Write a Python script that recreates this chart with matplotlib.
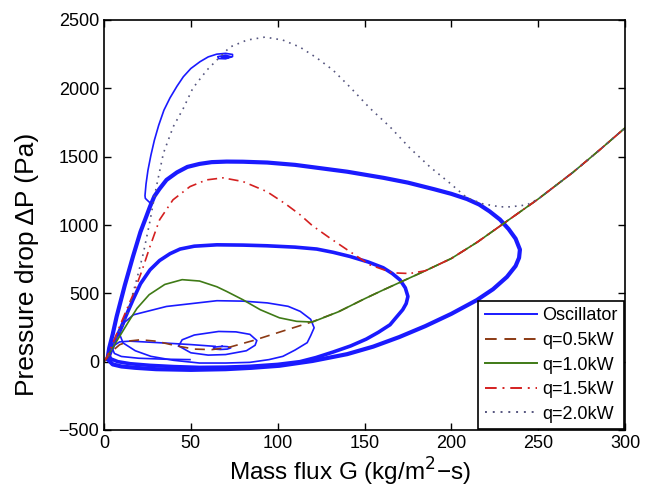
import matplotlib
matplotlib.use("Agg")
import matplotlib.pyplot as plt
from matplotlib.lines import Line2D

plt.rcParams['font.family'] = ['Liberation Sans', 'DejaVu Sans']

# common single-phase branch shared by all steady-state curves
common_x = [135, 150, 160, 170, 185, 200, 215, 230, 250, 270, 285, 300]
common_y = [365, 460, 520, 578, 665, 755, 875, 1010, 1190, 1385, 1545, 1710]

q05_x = [0, 2, 5, 9, 15, 21, 30, 42, 52, 62, 72, 86, 104, 120]
q05_y = [0, 30, 80, 124, 152, 160, 150, 115, 92, 88, 105, 155, 228, 292]

q10_x = [0, 4, 9, 14, 19, 26, 35, 45, 55, 65, 70.6, 80, 90, 101, 111, 120]
q10_y = [0, 80, 185, 290, 390, 490, 565, 600, 590, 548, 514, 453, 380, 321, 295, 290]

q15_x = [0, 1.5, 5, 9, 13, 16.7, 21.7, 26.5, 32, 39.7, 49.5, 59, 68.5, 80, 93.7,
         101, 105, 113, 120, 130, 140, 153, 166, 176, 185]
q15_y = [0, 30, 130, 258, 380, 490, 660, 843, 1038, 1184, 1281, 1330, 1345, 1318, 1245,
         1184, 1150, 1074, 995, 905, 819, 709, 650, 645, 665]

q20_x = [0, 3, 8, 13, 18.8, 22.6, 26.5, 29.4, 34.2, 39.9, 45.7, 51.2, 59.3, 65, 72.5,
         82.3, 92.7, 103, 112.8, 122.6, 131.8, 141.6, 153, 164.7, 176, 187.7, 199,
         209, 218, 228, 234, 243.5]
q20_y = [0, 50, 200, 331, 600, 790, 1030, 1233, 1525, 1720, 1854, 2002, 2134, 2207, 2302,
         2353, 2375, 2353, 2302, 2222, 2134, 2010, 1856, 1718, 1564, 1425, 1308,
         1199, 1155, 1133, 1133, 1147]

# oscillator trajectories
p1_x = [49.5, 35, 20, 10, 6, 5, 6, 9, 15, 30, 50, 64]
p1_y = [15, 18, 25, 38, 60, 90, 120, 145, 150, 140, 125, 112]

ring0_x = [68, 71, 73, 71, 67, 64, 63, 64, 68]
ring0_y = [112, 110, 101, 92, 89, 92, 100, 107, 112]

ring1_x = [43, 45, 52, 66, 76, 84, 88, 87, 82, 70, 60, 50, 43]
ring1_y = [115, 160, 195, 221, 218, 200, 155, 120, 80, 52, 48, 65, 115]

ring2_x = [9, 12, 17, 36, 65, 80, 94, 106, 113, 119, 121, 119, 117, 110, 103, 95, 84,
           70, 55, 40, 27, 18, 11, 9]
ring2_y = [200, 290, 343, 404, 446, 443, 430, 405, 368, 310, 248, 190, 139, 85, 39, 15,
           -5, -10, -10, 10, 39, 80, 137, 200]

inner_x = [3, 4.4, 6.5, 9.2, 13, 16.7, 21, 26.5, 32, 38, 43.8, 52, 65, 80, 93.7, 110,
           122.5, 132, 141.6, 152, 160.8, 166, 170.4, 173.5, 175, 174, 172, 168, 164.7,
           158, 151, 142, 131.8, 122, 112.8, 100, 84, 70, 55, 40, 26.5, 15, 8, 4, 3]
inner_y = [40, 88, 160, 234, 345, 453, 570, 672, 740, 790, 824, 845, 855, 853, 848, 838,
           824, 800, 770, 730, 687, 645, 599, 540, 477, 425, 380, 320, 270,
           215, 165, 115, 70, 30, 0, -20, -34, -40, -42, -36, -27, -15, 0, 20, 40]

outer_x = [2, 3, 5, 7.3, 12, 16.7, 21, 24, 26.5, 29, 32, 36, 42, 48, 55, 62, 70.6, 80,
           94, 110, 122, 140, 161, 175, 190, 200, 209, 216, 222, 228, 233, 237, 239.5,
           239, 237, 232, 224, 214.6, 200, 185, 170, 155, 140, 120, 101, 85, 70, 50, 30,
           18, 10, 5, 2]
outer_y = [20, 100, 200, 331, 560, 770, 950, 1050, 1135, 1210, 1265, 1330, 1385, 1425,
           1447, 1460, 1464, 1463, 1457, 1440, 1420, 1390, 1345, 1310, 1262, 1228, 1190,
           1150, 1100, 1040, 970, 900, 820, 760, 700, 620, 530, 450, 350, 260, 180, 110,
           55, 5, -30, -45, -55, -60, -55, -45, -35, -20, 20]

p4_x = [26.5, 26.3, 25, 23.8, 23.6, 24.2, 25.3, 27, 29, 31.5, 34.5, 38, 42, 45.7, 50,
        55.3, 60, 64.9, 70, 74, 74, 70, 66, 65.5, 70, 73, 70, 67.5, 70, 71.5]
p4_y = [1140, 1165, 1180, 1195, 1215, 1300, 1400, 1510, 1620, 1730, 1840, 1930, 2015,
        2085, 2145, 2195, 2230, 2250, 2256, 2248, 2232, 2216, 2218, 2232, 2242, 2232,
        2222, 2228, 2234, 2228]

x_ticks = [0, 50, 100, 150, 200, 250, 300]
y_ticks = [-500, 0, 500, 1000, 1500, 2000, 2500]
labels = ['Oscillator', 'q=0.5kW', 'q=1.0kW', 'q=1.5kW', 'q=2.0kW']

fig = plt.figure(figsize=(6.51, 4.90), dpi=100)
ax = fig.add_axes([104/651, 1-430/490, (625-104)/651, (430-20)/490])

blue = '#1a1aff'
c05, c10, c15, c20 = '#8b3a14', '#3f7a16', '#d42020', '#55557f'
ls05 = (0, (6, 4))
ls15 = (0, (6, 3, 1, 3))
ls20 = (0, (1, 3))

for xs, ys in [(p1_x, p1_y), (ring0_x, ring0_y), (ring1_x, ring1_y),
               (ring2_x, ring2_y), (p4_x, p4_y)]:
    ax.plot(xs, ys, color=blue, lw=1.2)
ax.plot(inner_x, inner_y, color=blue, lw=2.6, solid_joinstyle='round')
ax.plot(outer_x, outer_y, color=blue, lw=3.0, solid_joinstyle='round')

ax.plot(q05_x + common_x, q05_y + common_y, color=c05, lw=1.2, ls=ls05)
ax.plot(q10_x + common_x, q10_y + common_y, color=c10, lw=1.2, ls='-')
ax.plot(q15_x + common_x[4:], q15_y + common_y[4:], color=c15, lw=1.2, ls=ls15)
ax.plot(q20_x + common_x[8:], q20_y + common_y[8:], color=c20, lw=1.2, ls=ls20)

handles = [Line2D([], [], color=blue, lw=1.4),
           Line2D([], [], color=c05, lw=1.4, ls=ls05),
           Line2D([], [], color=c10, lw=1.4),
           Line2D([], [], color=c15, lw=1.4, ls=ls15),
           Line2D([], [], color=c20, lw=1.4, ls=ls20)]
leg = ax.legend(handles, labels, loc='lower right', fontsize=13, frameon=True,
                fancybox=False, edgecolor='black', handlelength=2.9, handletextpad=0.3,
                labelspacing=0.42, borderpad=0.35, borderaxespad=0.05)
leg.get_frame().set_linewidth(1.2)
leg.get_frame().set_alpha(1)

ax.set_xlim(0, 300)
ax.set_ylim(-500, 2500)
ax.set_xticks(x_ticks)
ax.set_yticks(y_ticks)
ax.set_yticklabels([str(v).replace('-', '\u2212') for v in y_ticks])
ax.tick_params(direction='in', top=True, right=True, length=5, labelsize=13, width=1)
for s in ax.spines.values():
    s.set_linewidth(1.2)

ax.set_xlabel('Mass flux G (kg/m$^2$\u2212s)', fontsize=17.5)
ax.set_ylabel('Pressure drop \u0394P (Pa)', fontsize=19)
ax.xaxis.set_label_coords(0.473, -0.063)
ax.yaxis.set_label_coords(-0.125, 0.405)

fig.savefig('out.png', dpi=100)
